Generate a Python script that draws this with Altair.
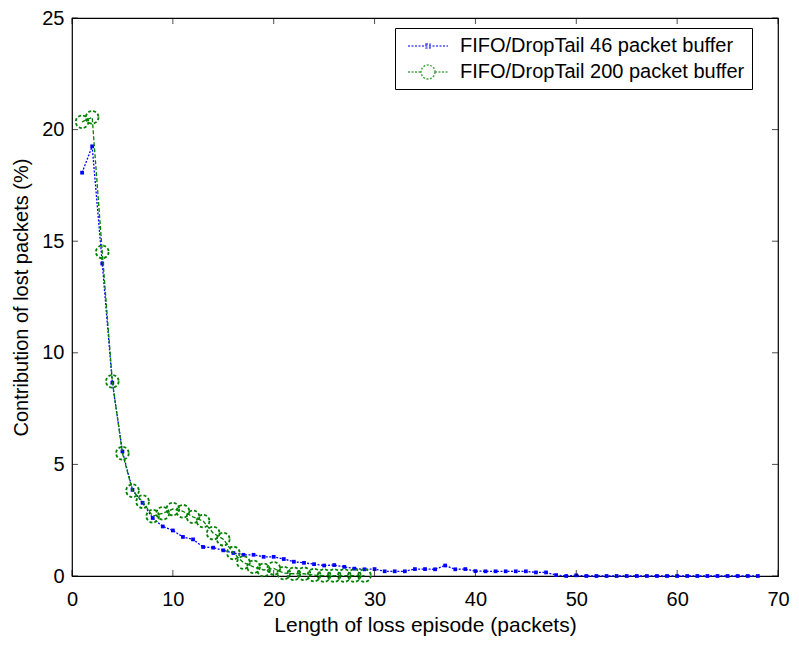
import altair as alt
import pandas as pd

# ---- data ----
series_names = ["FIFO/DropTail 46 packet buffer", "FIFO/DropTail 200 packet buffer"]

x46 = list(range(1, 69))
y46 = [18.07, 19.25, 14.0, 8.66, 5.58, 3.86, 3.28, 2.6, 2.22, 2.04,
       1.75, 1.64, 1.3, 1.27, 1.15, 1.03, 0.95, 0.95, 0.86, 0.86,
       0.76, 0.64, 0.59, 0.53, 0.47, 0.49, 0.41, 0.33, 0.30, 0.31,
       0.21, 0.21, 0.21, 0.31, 0.31, 0.30, 0.47, 0.30, 0.31, 0.22,
       0.21, 0.21, 0.21, 0.21, 0.21, 0.16, 0.16, 0.04, 0.0, 0.03,
       0.0, 0.0, 0.0, 0.0, 0.0, 0.0, 0.0, 0.0, 0.0, 0.0,
       0.0, 0.0, 0.0, 0.0, 0.0, 0.0, 0.0, 0.0]

x200 = list(range(1, 30))
y200 = [20.35, 20.55, 14.52, 8.72, 5.5, 3.82, 3.33, 2.68, 2.81, 3.0,
        2.9, 2.65, 2.46, 1.92, 1.65, 1.03, 0.6, 0.41, 0.27, 0.34,
        0.13, 0.1, 0.1, 0.04, 0.02, 0.02, 0.02, 0.02, 0.02]

x_ticks = [0, 10, 20, 30, 40, 50, 60, 70]
y_ticks = [0, 5, 10, 15, 20, 25]

BLUE = "#0000ff"
GREEN = "#008000"
FONT = "Liberation Sans"

df = pd.DataFrame({
    "x": x46 + x200,
    "y": y46 + y200,
    "series": [series_names[0]] * len(x46) + [series_names[1]] * len(x200),
})

xs = alt.Scale(domain=[0, 70], nice=False, zero=False)
ys = alt.Scale(domain=[0, 25], nice=False, zero=False)

x_enc = alt.X("x:Q", scale=xs, title="Length of loss episode (packets)",
              axis=alt.Axis(values=x_ticks, ticks=False, domain=False, grid=False,
                            labelFlush=False, labelPadding=13, titlePadding=5,
                            titleFontSize=21))
y_enc = alt.Y("y:Q", scale=ys, title="Contribution of lost packets (%)",
              axis=alt.Axis(values=y_ticks, ticks=False, domain=False, grid=False,
                            labelFlush=False, labelPadding=8, titlePadding=10,
                            titleFontSize=20))

base = alt.Chart(df)

blue_line = base.transform_filter(alt.datum.series == series_names[0]).mark_line(
    color=BLUE, strokeWidth=1.3, strokeDash=[2, 1.5]).encode(x=x_enc, y=y_enc)
blue_pts = base.transform_filter(alt.datum.series == series_names[0]).mark_point(
    shape="square", filled=True, color=BLUE, size=14, opacity=1).encode(x="x:Q", y="y:Q")

green_line = base.transform_filter(alt.datum.series == series_names[1]).mark_line(
    color=GREEN, strokeWidth=1.3, strokeDash=[4, 2]).encode(x="x:Q", y="y:Q")
green_pts = base.transform_filter(alt.datum.series == series_names[1]).mark_point(
    shape="circle", filled=False, color=GREEN, size=160, strokeWidth=1.8,
    strokeDash=[3, 2], opacity=1).encode(x="x:Q", y="y:Q")

# legend-only layer (no marks drawn); symbols: line segment with marker
blue_sym = "M-2,0H2M-0.2,-0.2H0.2V0.2H-0.2Z"
green_sym = ("M-2,0H-0.7M0.7,0H2M0.7,0A0.7,0.7 0 1,1 -0.7,0"
             "A0.7,0.7 0 1,1 0.7,0")
legend_layer = base.transform_filter("datum.x < 0").mark_point(filled=False).encode(
    x="x:Q", y="y:Q",
    color=alt.Color("series:N",
                    scale=alt.Scale(domain=series_names, range=[BLUE, GREEN]),
                    legend=alt.Legend(title=None, orient="none", legendX=323, legendY=10,
                                      fillColor="white", strokeColor="black",
                                      padding=7, symbolSize=400, symbolOffset=15,
                                      symbolStrokeWidth=1.5, symbolDash=[2, 1.5],
                                      labelFont=FONT, labelFontSize=20,
                                      labelColor="black", labelOffset=21, rowPadding=5,
                                      labelLimit=0)),
    shape=alt.Shape("series:N",
                    scale=alt.Scale(domain=series_names, range=[blue_sym, green_sym]),
                    legend=alt.Legend(title=None)),
)

# inward tick marks on all four sides
bt = pd.DataFrame({"t": x_ticks, "lo": [0] * len(x_ticks), "hi": [25] * len(x_ticks)})
lt = pd.DataFrame({"t": y_ticks, "lo": [0] * len(y_ticks), "hi": [70] * len(y_ticks)})
tick_bottom = alt.Chart(bt).mark_tick(orient="vertical", size=6, thickness=1,
                                      color="black", yOffset=-3).encode(x="t:Q", y="lo:Q")
tick_top = alt.Chart(bt).mark_tick(orient="vertical", size=6, thickness=1,
                                   color="black", yOffset=3).encode(x="t:Q", y="hi:Q")
tick_left = alt.Chart(lt).mark_tick(orient="horizontal", size=6, thickness=1,
                                    color="black", xOffset=3).encode(y="t:Q", x="lo:Q")
tick_right = alt.Chart(lt).mark_tick(orient="horizontal", size=6, thickness=1,
                                     color="black", xOffset=-3).encode(y="t:Q", x="hi:Q")

chart = alt.layer(
    blue_line, blue_pts, green_line, green_pts, legend_layer,
    tick_bottom, tick_top, tick_left, tick_right,
).properties(
    width=706, height=558,
    autosize=alt.AutoSizeParams(type="none"),
    padding={"left": 64, "top": 10, "right": 13, "bottom": 60},
    background="white",
).configure_view(
    stroke="black", strokeWidth=1.2
).configure_axis(
    labelFont=FONT, labelFontSize=20, labelColor="black",
    titleFont=FONT, titleColor="black", titleFontWeight="normal",
)

chart.save("out.html", embed_options={"renderer": "svg", "actions": False})
